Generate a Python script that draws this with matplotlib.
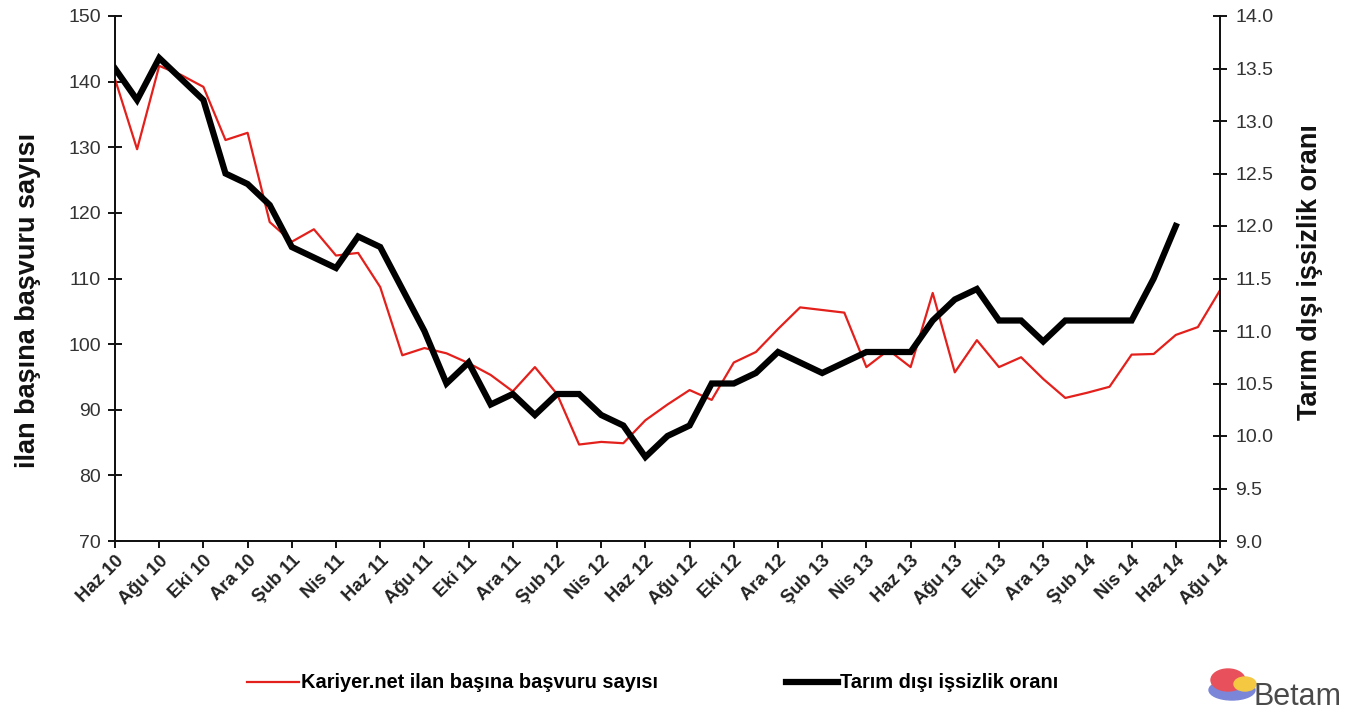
import matplotlib
matplotlib.use("Agg")
import matplotlib.pyplot as plt
from matplotlib.patches import Ellipse

plt.rcParams['font.family'] = ['Liberation Sans', 'DejaVu Sans']

month_abbr = ["Oca", "Şub", "Mar", "Nis", "May", "Haz", "Tem", "Ağu", "Eyl", "Eki", "Kas", "Ara"]
# monthly categories Haz 10 .. Ağu 14
months = []
for yr in range(10, 15):
    for m in month_abbr:
        months.append(f"{m} {yr}")
months = months[months.index("Haz 10"):months.index("Ağu 14") + 1]

kariyer = [140.4, 129.7, 142.4, 141.0, 139.2, 131.1, 132.2, 118.6, 115.6, 117.5,
           113.5, 113.9, 108.7, 98.3, 99.4, 98.6, 97.1, 95.3, 92.8, 96.5,
           92.4, 84.7, 85.1, 84.9, 88.4, 90.8, 93.0, 91.5, 97.2, 98.8,
           102.3, 105.6, 105.2, 104.8, 96.5, 99.1, 96.5, 107.8, 95.7, 100.6,
           96.5, 98.0, 94.7, 91.8, 92.6, 93.5, 98.4, 98.5, 101.4, 102.6,
           108.2]

issizlik = [13.5, 13.2, 13.6, 13.4, 13.2, 12.5, 12.4, 12.2, 11.8, 11.7,
            11.6, 11.9, 11.8, 11.4, 11.0, 10.5, 10.7, 10.3, 10.4, 10.2,
            10.4, 10.4, 10.2, 10.1, 9.8, 10.0, 10.1, 10.5, 10.5, 10.6,
            10.8, 10.7, 10.6, 10.7, 10.8, 10.8, 10.8, 11.1, 11.3, 11.4,
            11.1, 11.1, 10.9, 11.1, 11.1, 11.1, 11.1, 11.5, 12.0]

tick_labels = ["Haz 10", "Ağu 10", "Eki 10", "Ara 10", "Şub 11", "Nis 11", "Haz 11",
               "Ağu 11", "Eki 11", "Ara 11", "Şub 12", "Nis 12", "Haz 12", "Ağu 12",
               "Eki 12", "Ara 12", "Şub 13", "Nis 13", "Haz 13", "Ağu 13", "Eki 13",
               "Ara 13", "Şub 14", "Nis 14", "Haz 14", "Ağu 14"]

left_ticks = [70, 80, 90, 100, 110, 120, 130, 140, 150]
right_ticks = [9.0, 9.5, 10.0, 10.5, 11.0, 11.5, 12.0, 12.5, 13.0, 13.5, 14.0]

fig = plt.figure(figsize=(13.6, 7.18), dpi=100)
ax = fig.add_axes([115 / 1360, 1 - 541 / 718, 1105 / 1360, 525 / 718])
ax2 = ax.twinx()

x1 = list(range(len(kariyer)))
x2 = list(range(len(issizlik)))
l1, = ax.plot(x1, kariyer, color='#e3201b', lw=1.6, zorder=2,
              label='Kariyer.net ilan başına başvuru sayısı')
l2, = ax2.plot(x2, issizlik, color='black', lw=4.5, zorder=3,
               label='Tarım dışı işsizlik oranı', solid_joinstyle='miter')

ax.set_xlim(0, len(months) - 1)
ax.set_ylim(70, 150)
ax2.set_ylim(9.0, 14.0)
ax.set_yticks(left_ticks)
ax.set_yticklabels([str(t) for t in left_ticks])
ax2.set_yticks(right_ticks)
ax2.set_yticklabels([f"{t:.1f}" for t in right_ticks])

pos = [months.index(l) for l in tick_labels]
ax.set_xticks(pos)
ax.set_xticklabels(tick_labels, rotation=45, ha='right', rotation_mode='anchor',
                   fontsize=13.3, fontweight='bold', color='#222222')

for a in (ax, ax2):
    a.spines['top'].set_visible(False)
    for s in a.spines.values():
        s.set_linewidth(1.3)
        s.set_color('#111111')

ax.tick_params(axis='y', direction='inout', length=10, width=1.3, labelsize=14,
               labelcolor='#333333', pad=5)
ax2.tick_params(axis='y', direction='inout', length=10, width=1.3, labelsize=14,
                labelcolor='#333333', pad=6)
ax.tick_params(axis='x', direction='out', length=5, width=1.3, pad=3)

ax.set_ylabel('ilan başına başvuru sayısı', fontsize=19.5, fontweight='bold',
              color='#111111', va='center')
ax.yaxis.set_label_coords((28 - 115) / 1105, (541 - 300) / 525)
ax2.set_ylabel('Tarım dışı işsizlik oranı', fontsize=19.5, fontweight='bold',
               color='#111111', va='center')
ax2.yaxis.set_label_coords((1310 - 115) / 1105, (541 - 272) / 525)

fig.legend(handles=[l1, l2], loc='center left', bbox_to_anchor=(243 / 1360, 1 - 683 / 718),
           ncol=2, frameon=False, handlelength=2.6, handletextpad=0.1,
           columnspacing=6.4, borderaxespad=0, borderpad=0.2,
           prop={'weight': 'bold', 'size': 14.4})

# Betam logo (approximation)
fig.patches.append(Ellipse((1232 / 1360, 1 - 690 / 718), 46 / 1360, 20 / 718,
                           transform=fig.transFigure, color='#7b86d8', zorder=1))
fig.patches.append(Ellipse((1228 / 1360, 1 - 680 / 718), 34 / 1360, 22 / 718, angle=0,
                           transform=fig.transFigure, color='#e8505b', zorder=2))
fig.patches.append(Ellipse((1245 / 1360, 1 - 684 / 718), 22 / 1360, 14 / 718,
                           transform=fig.transFigure, color='#f5c842', zorder=3))
fig.text(1297 / 1360, 1 - 697 / 718, 'Betam', fontsize=22, color='#4a4a4a',
         ha='center', va='center')

fig.savefig('out.png', dpi=100)
